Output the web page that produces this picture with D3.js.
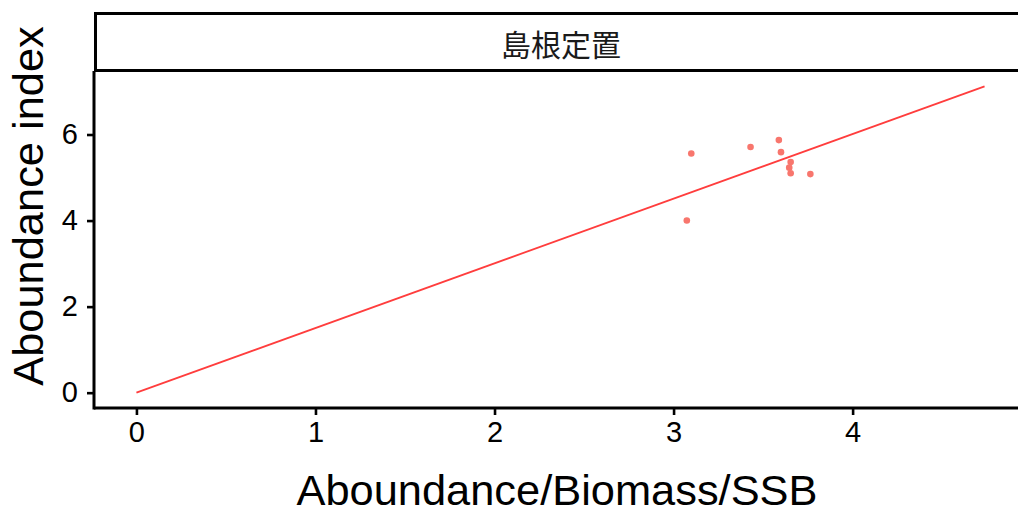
<!DOCTYPE html>
<html>
<head>
<meta charset="utf-8">
<script src="https://cdn.jsdelivr.net/npm/d3@7"></script>
<style>
  html, body { margin: 0; padding: 0; background: #fff; }
  svg { display: block; }
</style>
</head>
<body>
<svg id="chart" width="1018" height="514"></svg>
<script>
// ---- data ----
const stripLabel = "島根定置";
const xTitle = "Aboundance/Biomass/SSB";
const yTitle = "Aboundance index";
const pointX = [3.099, 3.074, 3.430, 3.588, 3.600, 3.654, 3.646, 3.654, 3.764];
const pointY = [5.56, 4.00, 5.71, 5.87, 5.59, 5.36, 5.23, 5.10, 5.08];
const fitX = [0, 4.737];
const fitY = [0, 7.12];
const xTicks = [0, 1, 2, 3, 4];
const yTicks = [0, 2, 4, 6];

// ---- layout ----
const svg = d3.select("#chart");
const panelLeft = 94, panelRight = 1027, panelTop = 71, panelBottom = 408;
const x = d3.scaleLinear().domain([-0.237, 4.974]).range([panelLeft, panelRight]);
const y = d3.scaleLinear().domain([-0.356, 7.476]).range([panelBottom, panelTop]);

const font = "'Liberation Sans', Arial, Helvetica, sans-serif";

// strip
svg.append("rect")
  .attr("x", 95.5).attr("y", 13.5)
  .attr("width", 1040).attr("height", 57)
  .attr("fill", "#fff").attr("stroke", "#000").attr("stroke-width", 3);
svg.append("text")
  .attr("x", 561).attr("y", 43)
  .attr("text-anchor", "middle").attr("dominant-baseline", "central")
  .attr("font-family", "'Noto Sans CJK JP', 'Noto Sans CJK SC', sans-serif")
  .attr("font-size", 30).attr("fill", "#1a1a1a")
  .text(stripLabel);

// fitted line
svg.append("path")
  .datum(fitX.map((d, i) => [d, fitY[i]]))
  .attr("d", d3.line().x(d => x(d[0])).y(d => y(d[1])))
  .attr("fill", "none").attr("stroke", "#ff3d3d").attr("stroke-width", 1.8);

// points
svg.append("g").selectAll("circle")
  .data(pointX.map((d, i) => [d, pointY[i]]))
  .join("circle")
  .attr("cx", d => x(d[0])).attr("cy", d => y(d[1]))
  .attr("r", 3.3).attr("fill", "#F8766D");

// axes
const xAxis = d3.axisBottom(x).tickValues(xTicks).tickSize(7).tickPadding(6).tickFormat(d3.format("d"));
const yAxis = d3.axisLeft(y).tickValues(yTicks).tickSize(7).tickPadding(9).tickFormat(d3.format("d"));

const gx = svg.append("g").attr("transform", `translate(0,${panelBottom})`).call(xAxis);
const gy = svg.append("g").attr("transform", `translate(${panelLeft},0)`).call(yAxis);

[gx, gy].forEach(g => {
  g.select(".domain").remove();
  g.selectAll(".tick line").attr("stroke", "#000").attr("stroke-width", 2.6);
  g.selectAll(".tick text").attr("fill", "#000")
    .attr("font-family", font).attr("font-size", 29);
});
gx.selectAll(".tick text").attr("dy", "0.71em");

// axis lines
svg.append("line")
  .attr("x1", panelLeft).attr("x2", panelRight)
  .attr("y1", panelBottom).attr("y2", panelBottom)
  .attr("stroke", "#000").attr("stroke-width", 3);
svg.append("line")
  .attr("x1", panelLeft).attr("x2", panelLeft)
  .attr("y1", panelTop).attr("y2", panelBottom + 1.5)
  .attr("stroke", "#000").attr("stroke-width", 3);

// titles
svg.append("text")
  .attr("x", 557).attr("y", 505)
  .attr("text-anchor", "middle")
  .attr("font-family", font).attr("font-size", 43.4).attr("fill", "#000")
  .text(xTitle);
svg.append("text")
  .attr("transform", "translate(43,206) rotate(-90)")
  .attr("text-anchor", "middle")
  .attr("font-family", font).attr("font-size", 43.4).attr("fill", "#000")
  .text(yTitle);
</script>
</body>
</html>
